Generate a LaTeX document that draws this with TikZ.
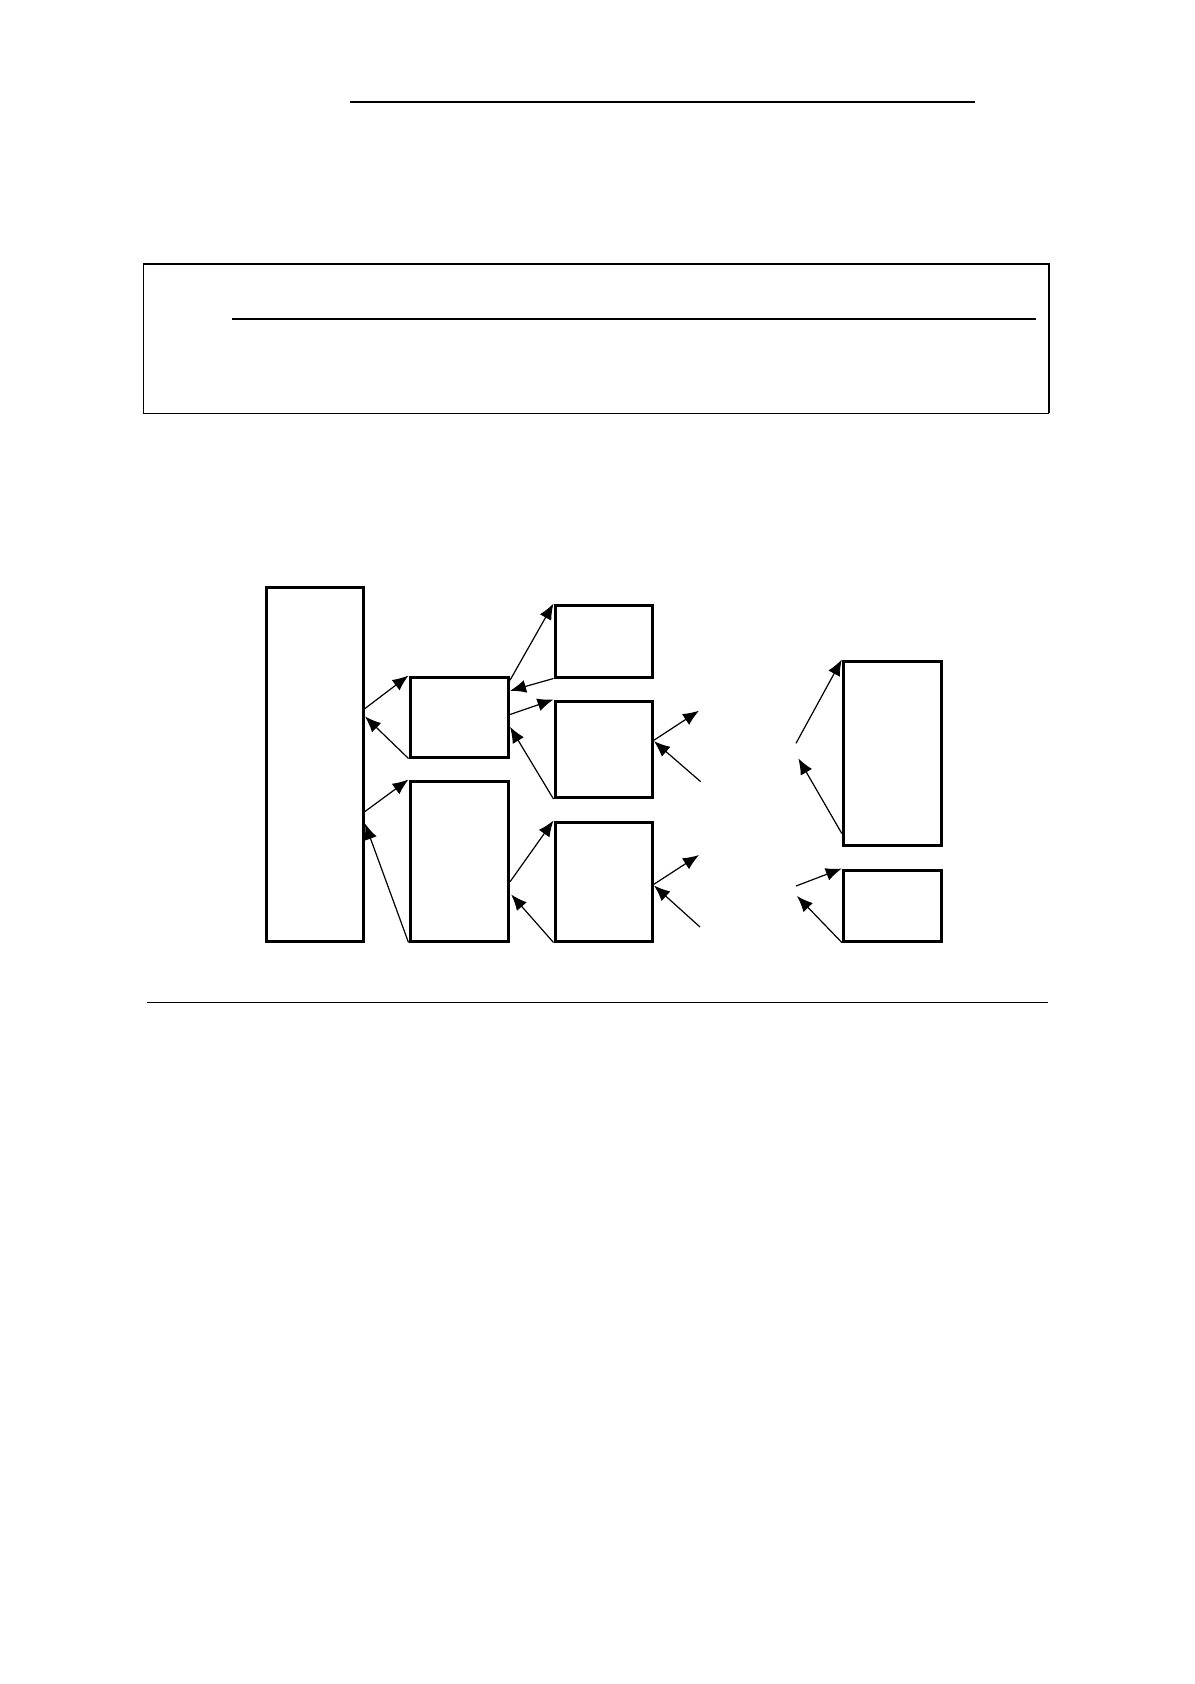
\documentclass[tikz,border=0pt]{standalone}
\usepackage{amsmath, graphicx, tikz}
\usetikzlibrary{arrows.meta,positioning,shapes}

\begin{document}
\begin{tikzpicture}[x=0.5pt,y=-0.5pt,
    blk/.style 2 args={draw, line width=1.5pt, inner sep=0pt, minimum width=#1*0.5pt, minimum height=#2*0.5pt},
    arr/.style={line width=0.6pt, -{Latex[length=8pt,width=6.5pt]}},
    rule/.style={line width=#1}]
    \useasboundingbox (0,0) rectangle (1194,1684);

    \draw[rule=1.1pt] (350,102) -- (975,102);

    \draw[rule=0.5pt] (143.3,264) -- (143.3,413.5) -- (1049,413.5);
    \draw[rule=1.1pt] (143.3,264) -- (1049,264) -- (1049,413.5);
    \draw[rule=1.1pt] (232.3,319) -- (1035.7,319);

    \node[blk={97}{354}] (root) at (315,764) {};
    \node[blk={98.5}{80}] (midA) at (459.25,717) {};
    \node[blk={98.5}{160}] (midB) at (459.25,861) {};
    \node[blk={97.5}{72}] (leafA) at (603.75,641) {};
    \node[blk={97.5}{96.5}] (leafB) at (603.75,749.25) {};
    \node[blk={97.5}{119}] (leafC) at (603.75,881.5) {};
    \node[blk={98.2}{184.5}] (sideA) at (892.4,753.25) {};
    \node[blk={98.2}{71}] (sideB) at (892.4,905.5) {};

    \coordinate (outB) at (699,710.7);
    \coordinate (inB) at (700.7,781.7);
    \coordinate (outC) at (699,855);
    \coordinate (inC) at (700,927);
    \coordinate (toSA) at (796,743.3);
    \coordinate (fromSA) at (798.3,758.3);
    \coordinate (toSB) at (796,886);
    \coordinate (fromSB) at (797,896);

    \draw[arr] ([shift={(0,123)}]root.north east) -- (midA.north west);
    \draw[arr] (midA.south west) -- ([shift={(0,131)}]root.north east);
    \draw[arr] ([shift={(0,226)}]root.north east) -- (midB.north west);
    \draw[arr] (midB.south west) -- ([shift={(0,238)}]root.north east);

    \draw[arr] ([shift={(0,4.7)}]midA.north east) -- (leafA.north west);
    \draw[arr] (leafA.south west) -- ([shift={(0,15.3)}]midA.north east);
    \draw[arr] ([shift={(0,39)}]midA.north east) -- (leafB.north west);
    \draw[arr] (leafB.south west) -- ([shift={(0,51.3)}]midA.north east);
    \draw[arr] ([shift={(0,102.3)}]midB.north east) -- (leafC.north west);
    \draw[arr] (leafC.south west) -- ([shift={(1.2,115)}]midB.north east);

    \draw[arr] ([shift={(0,40.7)}]leafB.north east) -- (outB);
    \draw[arr] (inB) -- ([shift={(0,41.7)}]leafB.north east);
    \draw[arr] ([shift={(0,63.7)}]leafC.north east) -- (outC);
    \draw[arr] (inC) -- ([shift={(0,65)}]leafC.north east);

    \draw[arr] (toSA) -- (sideA.north west);
    \draw[arr] ([shift={(0,174)}]sideA.north west) -- (fromSA);
    \draw[arr] (toSB) -- (sideB.north west);
    \draw[arr] (sideB.south west) -- (fromSB);

    \draw[rule=0.5pt] (147.3,1002.3) -- (1047.7,1002.3);
\end{tikzpicture}
\end{document}
